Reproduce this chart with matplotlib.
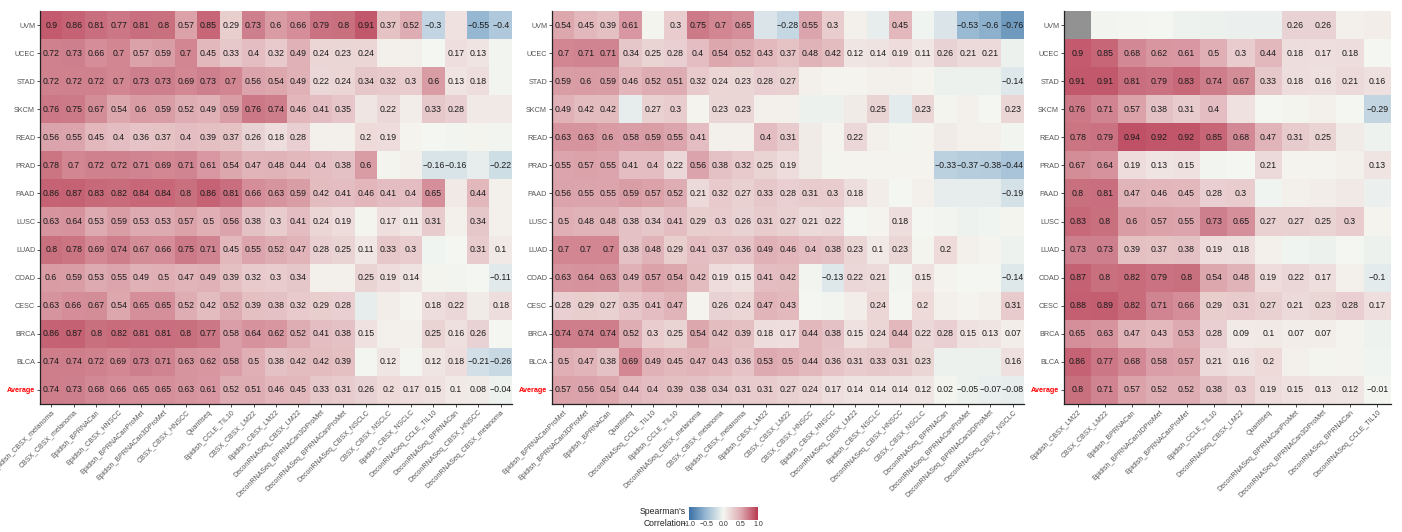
import numpy as np
import matplotlib
matplotlib.use("Agg")
import matplotlib.pyplot as plt
from matplotlib.colors import LinearSegmentedColormap, Normalize


class Hidden(float):
    """A correlation that is coloured but not printed (not significant)."""
    pass


H = Hidden

cancers = ["UVM", "UCEC", "STAD", "SKCM", "READ", "PRAD", "PAAD",
           "LUSC", "LUAD", "COAD", "CESC", "BRCA", "BLCA", "Average"]

# ---- panel 1 ----
methods_a = ["Epidish_CBSX_melanoma", "CBSX_CBSX_melanoma", "Epidish_BPRNACan",
             "Epidish_CBSX_HNSCC", "Epidish_BPRNACanProMet", "Epidish_BPRNACan3DProMet",
             "CBSX_CBSX_HNSCC", "Quantiseq", "Epidish_CCLE_TIL10", "CBSX_CBSX_LM22",
             "Epidish_CBSX_LM22", "DeconRNASeq_CBSX_LM22", "DeconRNASeq_BPRNACan3DProMet",
             "DeconRNASeq_BPRNACanProMet", "DeconRNASeq_CBSX_NSCLC", "CBSX_CBSX_NSCLC",
             "Epidish_CBSX_NSCLC", "DeconRNASeq_CCLE_TIL10", "DeconRNASeq_BPRNACan",
             "DeconRNASeq_CBSX_HNSCC", "DeconRNASeq_CBSX_melanoma"]
values_a = [
    [0.9, 0.86, 0.81, 0.77, 0.81, 0.8, 0.57, 0.85, 0.29, 0.73, 0.6, 0.66, 0.79, 0.8, 0.91, 0.37, 0.52, -0.3, H(0.15), -0.55, -0.4],
    [0.72, 0.73, 0.66, 0.7, 0.57, 0.59, 0.7, 0.45, 0.33, 0.4, 0.32, 0.49, 0.24, 0.23, 0.24, H(0.05), H(0.04), H(0.0), 0.17, 0.13, H(-0.02)],
    [0.72, 0.72, 0.72, 0.7, 0.73, 0.73, 0.69, 0.73, 0.7, 0.56, 0.54, 0.49, 0.22, 0.24, 0.34, 0.32, 0.3, 0.6, 0.13, 0.18, H(-0.02)],
    [0.76, 0.75, 0.67, 0.54, 0.6, 0.59, 0.52, 0.49, 0.59, 0.76, 0.74, 0.46, 0.41, 0.35, H(0.12), 0.22, H(0.07), 0.33, 0.28, H(0.1), H(0.1)],
    [0.56, 0.55, 0.45, 0.4, 0.36, 0.37, 0.4, 0.39, 0.37, 0.26, 0.18, 0.28, H(0.05), H(0.05), 0.2, 0.19, H(0.03), H(0.0), H(-0.02), H(0.02), H(-0.02)],
    [0.78, 0.7, 0.72, 0.72, 0.71, 0.69, 0.71, 0.61, 0.54, 0.47, 0.48, 0.44, 0.4, 0.38, 0.6, H(0.02), H(0.05), -0.16, -0.16, H(-0.08), -0.22],
    [0.86, 0.87, 0.83, 0.82, 0.84, 0.84, 0.8, 0.86, 0.81, 0.66, 0.63, 0.59, 0.42, 0.41, 0.46, 0.41, 0.4, 0.65, H(0.1), 0.44, H(0.05)],
    [0.63, 0.64, 0.53, 0.59, 0.53, 0.53, 0.57, 0.5, 0.56, 0.38, 0.3, 0.41, 0.24, 0.19, H(0.02), 0.17, 0.11, 0.31, H(0.05), 0.34, H(0.05)],
    [0.8, 0.78, 0.69, 0.74, 0.67, 0.66, 0.75, 0.71, 0.45, 0.55, 0.52, 0.47, 0.28, 0.25, 0.11, 0.33, 0.3, H(-0.03), H(0.0), 0.31, 0.1],
    [0.6, 0.59, 0.53, 0.55, 0.49, 0.5, 0.47, 0.49, 0.39, 0.32, 0.3, 0.34, H(0.05), H(0.05), 0.25, 0.19, 0.14, H(0.02), H(-0.02), H(0.0), -0.11],
    [0.63, 0.66, 0.67, 0.54, 0.65, 0.65, 0.52, 0.42, 0.52, 0.39, 0.38, 0.32, 0.29, 0.28, H(-0.08), H(0.07), H(0.03), 0.18, 0.22, H(0.08), 0.18],
    [0.86, 0.87, 0.8, 0.82, 0.81, 0.81, 0.8, 0.77, 0.58, 0.64, 0.62, 0.52, 0.41, 0.38, 0.15, H(0.05), H(0.05), 0.25, 0.16, 0.26, H(0.0)],
    [0.74, 0.74, 0.72, 0.69, 0.73, 0.71, 0.63, 0.62, 0.58, 0.5, 0.38, 0.42, 0.42, 0.39, H(-0.01), 0.12, H(-0.01), 0.12, 0.18, -0.21, -0.26],
    [0.74, 0.73, 0.68, 0.66, 0.65, 0.65, 0.63, 0.61, 0.52, 0.51, 0.46, 0.45, 0.33, 0.31, 0.26, 0.2, 0.17, 0.15, 0.1, 0.08, -0.04],
]

# ---- panel 2 ----
methods_b = ["Epidish_BPRNACanProMet", "Epidish_BPRNACan3DProMet", "Epidish_BPRNACan",
             "Quantiseq", "DeconRNASeq_CCLE_TIL10", "Epidish_CCLE_TIL10",
             "DeconRNASeq_CBSX_melanoma", "CBSX_CBSX_melanoma", "Epidish_CBSX_melanoma",
             "Epidish_CBSX_LM22", "CBSX_CBSX_LM22", "CBSX_CBSX_HNSCC", "Epidish_CBSX_HNSCC",
             "DeconRNASeq_CBSX_LM22", "Epidish_CBSX_NSCLC", "DeconRNASeq_CBSX_HNSCC",
             "CBSX_CBSX_NSCLC", "DeconRNASeq_BPRNACan", "DeconRNASeq_BPRNACanProMet",
             "DeconRNASeq_BPRNACan3DProMet", "DeconRNASeq_CBSX_NSCLC"]
values_b = [
    [0.54, 0.45, 0.39, 0.61, H(0.02), 0.3, 0.75, 0.7, 0.65, H(-0.15), -0.28, 0.55, 0.3, H(0.05), H(-0.08), 0.45, H(-0.03), H(-0.15), -0.53, -0.6, -0.76],
    [0.7, 0.71, 0.71, 0.34, 0.25, 0.28, 0.4, 0.54, 0.52, 0.43, 0.37, 0.48, 0.42, 0.12, 0.14, 0.19, 0.11, 0.26, 0.21, 0.21, H(-0.05)],
    [0.59, 0.6, 0.59, 0.46, 0.52, 0.51, 0.32, 0.24, 0.23, 0.28, 0.27, H(0.04), H(0.03), H(0.03), H(0.05), H(0.05), H(0.03), H(-0.05), H(-0.05), H(-0.05), -0.14],
    [0.49, 0.42, 0.42, H(-0.08), 0.27, 0.3, H(0.03), 0.23, 0.23, H(0.05), H(0.05), H(-0.05), H(-0.05), H(0.08), 0.25, H(-0.1), 0.23, H(0.02), H(0.05), H(0.0), 0.23],
    [0.63, 0.63, 0.6, 0.58, 0.59, 0.55, 0.41, H(0.05), H(0.05), 0.4, 0.31, H(0.08), H(0.03), 0.22, H(0.05), H(0.02), H(0.03), H(0.08), H(0.05), H(0.05), H(-0.02)],
    [0.55, 0.57, 0.55, 0.41, 0.4, 0.22, 0.56, 0.38, 0.32, 0.25, 0.19, H(0.08), H(0.02), H(0.03), H(0.03), H(0.03), H(0.03), -0.33, -0.37, -0.38, -0.44],
    [0.56, 0.55, 0.55, 0.59, 0.57, 0.52, 0.21, 0.32, 0.27, 0.33, 0.28, 0.31, 0.3, 0.18, H(0.07), H(0.0), H(0.05), H(-0.08), H(-0.08), H(-0.08), -0.19],
    [0.5, 0.48, 0.48, 0.38, 0.34, 0.41, 0.29, 0.3, 0.26, 0.31, 0.27, 0.21, 0.22, H(0.0), H(0.03), 0.18, H(0.0), H(-0.02), H(-0.04), H(-0.03), H(0.02)],
    [0.7, 0.7, 0.7, 0.38, 0.48, 0.29, 0.41, 0.37, 0.36, 0.49, 0.46, 0.4, 0.38, 0.23, 0.1, 0.23, H(0.02), 0.2, H(0.05), H(0.03), H(-0.04)],
    [0.63, 0.64, 0.63, 0.49, 0.57, 0.54, 0.42, 0.19, 0.15, 0.41, 0.42, H(-0.02), -0.13, 0.22, 0.21, H(-0.02), 0.15, H(0.03), H(0.0), H(0.0), -0.14],
    [0.28, 0.29, 0.27, 0.35, 0.41, 0.47, H(0.03), 0.26, 0.24, 0.47, 0.43, H(0.0), H(-0.02), H(0.07), 0.24, H(0.0), 0.2, H(0.04), H(0.03), H(0.04), 0.31],
    [0.74, 0.74, 0.74, 0.52, 0.3, 0.25, 0.54, 0.42, 0.39, 0.18, 0.17, 0.44, 0.38, 0.15, 0.24, 0.44, 0.22, 0.28, 0.15, 0.13, 0.07],
    [0.5, 0.47, 0.38, 0.69, 0.49, 0.45, 0.47, 0.43, 0.36, 0.53, 0.5, 0.44, 0.36, 0.31, 0.33, 0.31, 0.23, H(-0.05), H(-0.05), H(-0.05), 0.16],
    [0.57, 0.56, 0.54, 0.44, 0.4, 0.39, 0.38, 0.34, 0.31, 0.31, 0.27, 0.24, 0.17, 0.14, 0.14, 0.14, 0.12, 0.02, -0.05, -0.07, -0.08],
]

# ---- panel 3 ----
methods_c = ["Epidish_CBSX_LM22", "CBSX_CBSX_LM22", "Epidish_BPRNACan",
             "Epidish_BPRNACan3DProMet", "Epidish_BPRNACanProMet", "Epidish_CCLE_TIL10",
             "DeconRNASeq_CBSX_LM22", "Quantiseq", "DeconRNASeq_BPRNACanProMet",
             "DeconRNASeq_BPRNACan3DProMet", "DeconRNASeq_BPRNACan", "DeconRNASeq_CCLE_TIL10"]
values_c = [
    [np.nan, H(-0.02), H(-0.01), H(0.0), H(-0.04), H(-0.05), H(-0.06), H(-0.06), 0.26, 0.26, H(0.05), H(0.07)],
    [0.9, 0.85, 0.68, 0.62, 0.61, 0.5, 0.3, 0.44, 0.18, 0.17, 0.18, H(0.0)],
    [0.91, 0.91, 0.81, 0.79, 0.83, 0.74, 0.67, 0.33, 0.18, 0.16, 0.21, 0.16],
    [0.76, 0.71, 0.57, 0.38, 0.31, 0.4, H(0.15), H(0.0), H(0.02), H(0.05), H(0.0), -0.29],
    [0.78, 0.79, 0.94, 0.92, 0.92, 0.85, 0.68, 0.47, 0.31, 0.25, H(0.08), H(-0.04)],
    [0.67, 0.64, 0.19, 0.13, 0.15, H(-0.02), H(0.0), 0.21, H(0.03), H(0.03), H(0.05), 0.13],
    [0.8, 0.81, 0.47, 0.46, 0.45, 0.28, 0.3, H(-0.03), H(0.05), H(0.07), H(0.1), H(-0.06)],
    [0.83, 0.8, 0.6, 0.57, 0.55, 0.73, 0.65, 0.27, 0.27, 0.25, 0.3, H(0.03)],
    [0.73, 0.73, 0.39, 0.37, 0.38, 0.19, 0.18, H(0.05), H(-0.03), H(-0.05), H(0.0), H(-0.05)],
    [0.87, 0.8, 0.82, 0.79, 0.8, 0.54, 0.48, 0.19, 0.22, 0.17, H(0.05), -0.1],
    [0.88, 0.89, 0.82, 0.71, 0.66, 0.29, 0.31, 0.27, 0.21, 0.23, 0.28, 0.17],
    [0.65, 0.63, 0.47, 0.43, 0.53, 0.28, 0.09, 0.1, 0.07, 0.07, H(0.03), H(-0.04)],
    [0.86, 0.77, 0.68, 0.58, 0.57, 0.21, 0.16, 0.2, H(0.04), H(0.02), H(0.03), H(-0.03)],
    [0.8, 0.71, 0.57, 0.52, 0.52, 0.38, 0.3, 0.19, 0.15, 0.13, 0.12, -0.01],
]

plt.rcParams["font.family"] = ["Liberation Sans", "DejaVu Sans"]

cmap = LinearSegmentedColormap.from_list(
    "corr", ["#24609b", "#8fb3cf", "#f4f6f0", "#dba3aa", "#b0253f"])
cmap.set_bad("#7f7f7f")
norm = Normalize(-1, 1)


def fmt(v):
    return f"{round(v, 2):g}".replace("-", "\u2212")


def draw_panel(ax, methods, values):
    n_rows, n_cols = len(values), len(methods)
    mat = np.array([[float(v) for v in row] for row in values])
    ax.imshow(np.ma.masked_invalid(mat), cmap=cmap, norm=norm, aspect="auto",
              interpolation="nearest", alpha=0.85,
              extent=(-0.5, n_cols - 0.5, n_rows - 0.5, -0.5))
    for i, row in enumerate(values):
        for j, v in enumerate(row):
            if isinstance(v, Hidden) or np.isnan(v):
                continue
            ax.text(j, i, fmt(v), ha="center", va="center",
                    fontsize=6.3, color="#1a1a1a")
    ax.set_xlim(-0.5, n_cols - 0.5)
    ax.set_ylim(n_rows - 0.5, -0.5)
    ax.set_xticks(range(n_cols))
    ax.set_xticklabels(methods, rotation=45, ha="right", rotation_mode="anchor",
                       fontsize=5, color="#555555")
    ax.set_yticks(range(n_rows))
    ax.set_yticklabels(cancers, fontsize=5.2, color="#555555")
    avg = ax.get_yticklabels()[-1]
    avg.set_color("red")
    avg.set_fontweight("bold")
    ax.tick_params(length=2, width=0.6, color="#333333", pad=1.5)
    for side in ("top", "right"):
        ax.spines[side].set_visible(False)
    for side in ("left", "bottom"):
        ax.spines[side].set_linewidth(0.9)
        ax.spines[side].set_color("#222222")


fig = plt.figure(figsize=(14.02, 5.32), dpi=100)
W, Ht = 1402, 532


def px_axes(x0, y0, x1, y1):
    return fig.add_axes([x0 / W, 1 - y1 / Ht, (x1 - x0) / W, (y1 - y0) / Ht])


draw_panel(px_axes(40, 11, 512, 404), methods_a, values_a)
draw_panel(px_axes(552, 11, 1024, 404), methods_b, values_b)
draw_panel(px_axes(1064, 11, 1391, 404), methods_c, values_c)

# colour key
cax = px_axes(689, 507, 758, 520)
grad = np.linspace(-1, 1, 256)[None, :]
cax.imshow(grad, cmap=cmap, norm=norm, aspect="auto", alpha=0.9,
           extent=(-1, 1, 0, 1))
cax.set_yticks([])
cax.set_xticks([-1, -0.5, 0, 0.5, 1])
cax.set_xticklabels(["\u22121.0", "\u22120.5", "0.0", "0.5", "1.0"], fontsize=5,
                    color="#333333")
cax.tick_params(axis="x", length=0, pad=1)
for s in cax.spines.values():
    s.set_visible(False)
fig.text(686 / W, 1 - 512 / Ht, "Spearman's", ha="right", va="center",
         fontsize=6.2, color="#222222")
fig.text(686 / W, 1 - 523 / Ht, "Correlation", ha="right", va="center",
         fontsize=6.2, color="#222222")

fig.savefig("out.png", dpi=100)
